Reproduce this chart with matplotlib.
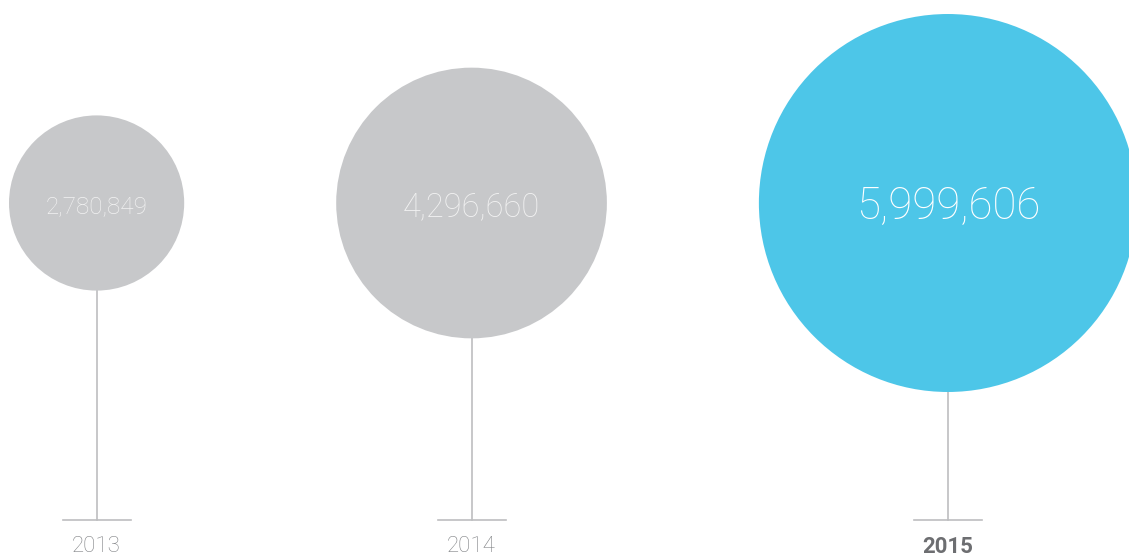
import matplotlib.pyplot as plt
from matplotlib.patches import Circle

# yearly totals, drawn as circles whose radius follows the value
years = ['2013', '2014', '2015']
totals = [2780849, 4296660, 5999606]
highlight = '2015'

# layout (pixels, figure is drawn 1:1 in pixel units)
W, H = 1129, 559
px_per_unit = 3.15e-5   # radius in px per visitor
left_margin = 9
gap = 152
center_y = 203
base_y = 520
label_y = 547
value_sizes = [17.5, 23.5, 31.5]

grey = '#c7c8ca'
blue = '#4dc6e8'
stem_color = '#bdbec0'

fig = plt.figure(figsize=(W / 100, H / 100), dpi=100)
ax = fig.add_axes([0, 0, 1, 1])
ax.set_xlim(0, W)
ax.set_ylim(H, 0)
ax.set_aspect('equal')
ax.axis('off')

x = left_margin
for year, total, fs in zip(years, totals, value_sizes):
    r = total * px_per_unit
    cx = x + r
    x = cx + r + gap
    is_hl = year == highlight

    # stem + foot
    ax.plot([cx, cx], [center_y, base_y], color=stem_color, lw=1.2, zorder=1)
    ax.plot([cx - 34, cx + 34], [base_y, base_y], color=stem_color, lw=1.2, zorder=1)

    ax.add_patch(Circle((cx, center_y), r, facecolor=blue if is_hl else grey,
                        edgecolor='none', zorder=2))
    ax.text(cx, center_y + 4, f'{total:,}', ha='center', va='center',
            fontsize=fs, family='Roboto', weight='light',
            color='white' if is_hl else '#f2f2f2', zorder=3)

    ax.text(cx, label_y, year, ha='center', va='center', fontsize=16,
            family='Roboto', weight='bold' if is_hl else 'light',
            color='#6d6e71' if is_hl else '#808285')

fig.savefig('out.png', dpi=100)
